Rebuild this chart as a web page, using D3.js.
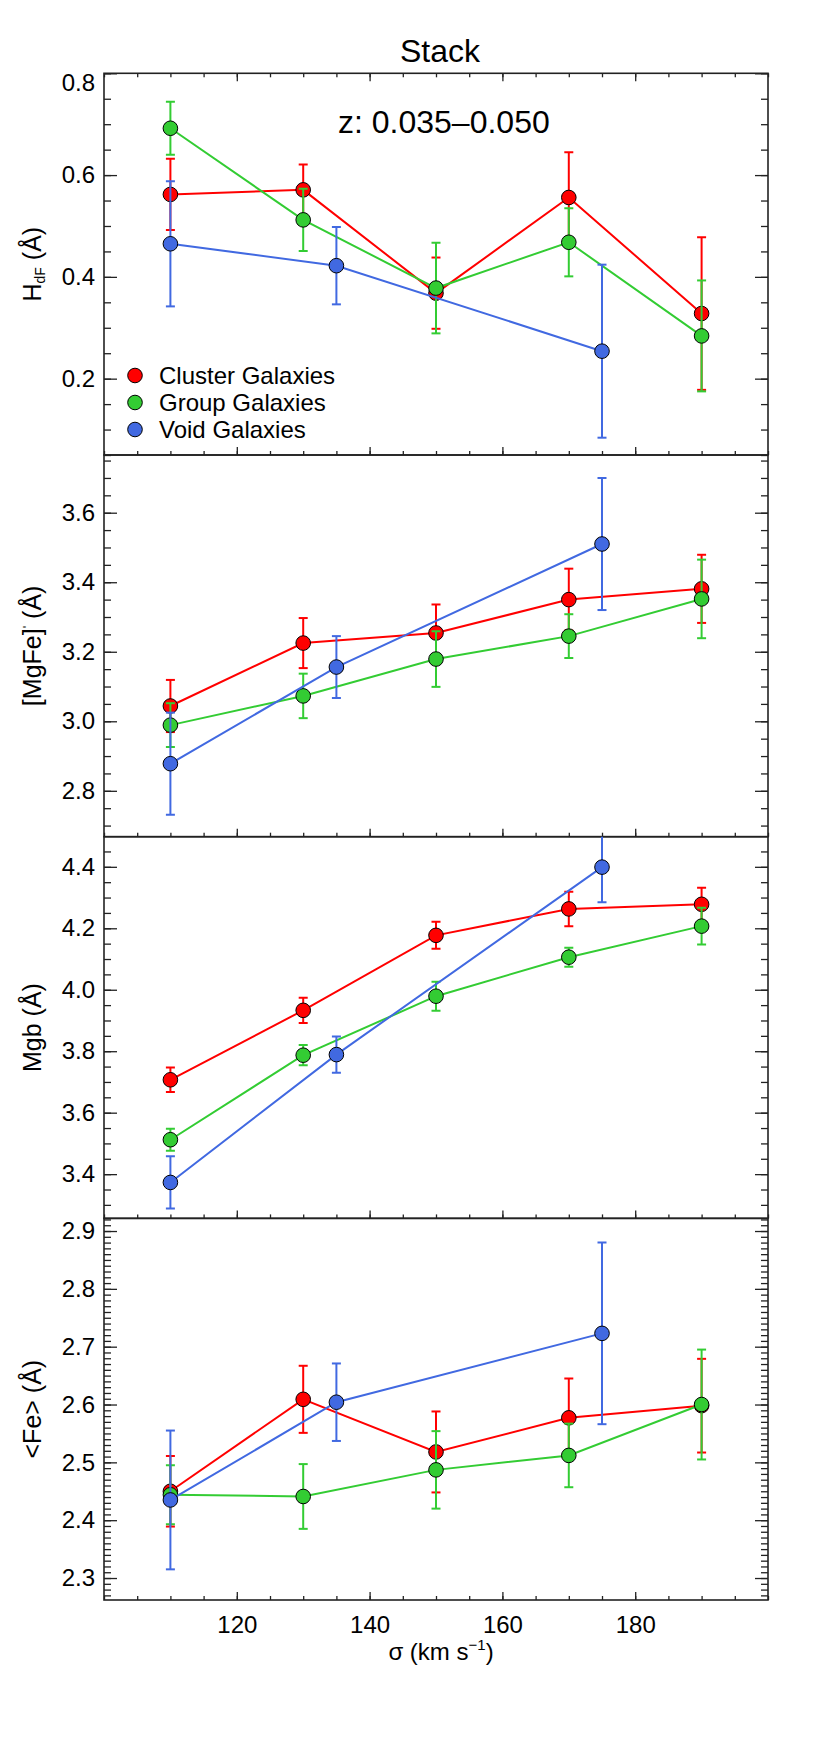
<!DOCTYPE html>
<html>
<head>
<meta charset="utf-8">
<script src="https://cdn.jsdelivr.net/npm/d3@7"></script>
<style>
  body { margin: 0; background: #fff; }
  svg { display: block; font-family: "Liberation Sans", Arial, Helvetica, sans-serif; }
</style>
</head>
<body>
<svg id="chart" width="830" height="1752"></svg>
<script>
// sigma bins (km/s)
const sigmaCluster = [110, 130, 150, 170, 190]
const sigmaGroup = [110, 130, 150, 170, 190]
const sigmaVoid = [110, 135, 175]

// H_dF
const hdfCluster = [0.562, 0.571, 0.368, 0.556, 0.328]
const hdfClusterErr = [0.070, 0.050, 0.070, 0.089, 0.150]
const hdfGroup = [0.692, 0.512, 0.378, 0.468, 0.284]
const hdfGroupErr = [0.052, 0.061, 0.089, 0.067, 0.109]
const hdfVoid = [0.465, 0.422, 0.254]
const hdfVoidErr = [0.123, 0.076, 0.170]

// [MgFe]'
const mgfeCluster = [3.044, 3.225, 3.254, 3.350, 3.381]
const mgfeClusterErr = [0.075, 0.072, 0.082, 0.089, 0.098]
const mgfeGroup = [2.989, 3.073, 3.179, 3.245, 3.352]
const mgfeGroupErr = [0.063, 0.064, 0.080, 0.063, 0.113]
const mgfeVoid = [2.878, 3.156, 3.510]
const mgfeVoidErr = [0.147, 0.089, 0.190]

// Mgb
const mgbCluster = [3.707, 3.933, 4.177, 4.263, 4.278]
const mgbClusterErr = [0.040, 0.041, 0.044, 0.056, 0.054]
const mgbGroup = [3.512, 3.787, 3.979, 4.106, 4.207]
const mgbGroupErr = [0.036, 0.033, 0.047, 0.031, 0.060]
const mgbVoid = [3.373, 3.789, 4.399]
const mgbVoidErr = [0.085, 0.059, 0.114]

// <Fe>
const feCluster = [2.450, 2.609, 2.518, 2.577, 2.598]
const feClusterErr = [0.061, 0.058, 0.070, 0.068, 0.081]
const feGroup = [2.444, 2.441, 2.487, 2.512, 2.600]
const feGroupErr = [0.051, 0.056, 0.067, 0.055, 0.095]
const feVoid = [2.435, 2.604, 2.723]
const feVoidErr = [0.120, 0.067, 0.157]

// axes
const xDomain = [100, 200]
const xTicks = [120, 140, 160, 180]
const hdfDomain = [0.05, 0.8]
const hdfTicks = [0.2, 0.4, 0.6, 0.8]
const mgfeDomain = [2.668, 3.766]
const mgfeTicks = [2.8, 3.0, 3.2, 3.4, 3.6]
const mgbDomain = [3.256, 4.498]
const mgbTicks = [3.4, 3.6, 3.8, 4.0, 4.2, 4.4]
const feDomain = [2.262, 2.922]
const feTicks = [2.3, 2.4, 2.5, 2.6, 2.7, 2.8, 2.9]

const seriesNames = ['Cluster Galaxies', 'Group Galaxies', 'Void Galaxies']
const seriesColors = ['#ff0000', '#33cc33', '#4169e1']

const svg = d3.select('#chart')
const left = 104
const width = 664
const panelH = 381.7
const tops = [73.3, 455, 836.7, 1218.3]

const x = d3.scaleLinear().domain(xDomain).range([0, width])

const panels = [
  { domain: hdfDomain, ticks: hdfTicks, minor: 0.05, fmt: '.1f',
    series: [[sigmaCluster, hdfCluster, hdfClusterErr], [sigmaGroup, hdfGroup, hdfGroupErr], [sigmaVoid, hdfVoid, hdfVoidErr]] },
  { domain: mgfeDomain, ticks: mgfeTicks, minor: 0.05, fmt: '.1f',
    series: [[sigmaCluster, mgfeCluster, mgfeClusterErr], [sigmaGroup, mgfeGroup, mgfeGroupErr], [sigmaVoid, mgfeVoid, mgfeVoidErr]] },
  { domain: mgbDomain, ticks: mgbTicks, minor: 0.05, fmt: '.1f',
    series: [[sigmaCluster, mgbCluster, mgbClusterErr], [sigmaGroup, mgbGroup, mgbGroupErr], [sigmaVoid, mgbVoid, mgbVoidErr]] },
  { domain: feDomain, ticks: feTicks, minor: 0.01, fmt: '.1f',
    series: [[sigmaCluster, feCluster, feClusterErr], [sigmaGroup, feGroup, feGroupErr], [sigmaVoid, feVoid, feVoidErr]] }
]

function minorValues (domain, step) {
  const out = []
  const start = Math.ceil(domain[0] / step - 1e-6)
  const end = Math.floor(domain[1] / step + 1e-6)
  for (let k = start; k <= end; k++) out.push(+(k * step).toFixed(4))
  return out
}

function styleAxis (sel) {
  sel.select('.domain').remove()
  sel.selectAll('.tick line').attr('stroke', '#222').attr('stroke-width', 1.3)
  sel.selectAll('text').attr('font-size', 24).attr('fill', '#000')
    .attr('font-family', '"Liberation Sans", Arial, sans-serif')
}

panels.forEach((p, i) => {
  const g = svg.append('g').attr('transform', `translate(${left},${tops[i]})`)
  const y = d3.scaleLinear().domain(p.domain).range([panelH, 0])

  g.append('clipPath').attr('id', 'clip' + i)
    .append('rect').attr('width', width).attr('height', panelH)

  // y axes (ticks inside)
  g.append('g').call(d3.axisLeft(y).tickValues(minorValues(p.domain, p.minor)).tickSize(-7).tickFormat(''))
    .call(styleAxis)
  const yl = g.append('g').call(d3.axisLeft(y).tickValues(p.ticks).tickSize(-13).tickPadding(9).tickFormat(d3.format(p.fmt)))
    .call(styleAxis)
  yl.selectAll('.tick text').filter(d => y(d) < 9).attr('dy', '0.7em')

  g.append('g').attr('transform', `translate(${width},0)`)
    .call(d3.axisRight(y).tickValues(minorValues(p.domain, p.minor)).tickSize(-7).tickFormat(''))
    .call(styleAxis)
  g.append('g').attr('transform', `translate(${width},0)`)
    .call(d3.axisRight(y).tickValues(p.ticks).tickSize(-13).tickFormat(''))
    .call(styleAxis)

  // x axes
  const xMinor = d3.range(xDomain[0], xDomain[1] + 1, 5)
  g.append('g').attr('transform', `translate(0,${panelH})`)
    .call(d3.axisBottom(x).tickValues(xMinor).tickSize(-4).tickFormat(''))
    .call(styleAxis)
  g.append('g').attr('transform', `translate(0,${panelH})`)
    .call(d3.axisBottom(x).tickValues(xTicks).tickSize(-8).tickPadding(16)
      .tickFormat(i === 3 ? d3.format('d') : ''))
    .call(styleAxis)
  if (i === 0) {
    g.append('g').call(d3.axisTop(x).tickValues(xMinor).tickSize(-4).tickFormat('')).call(styleAxis)
    g.append('g').call(d3.axisTop(x).tickValues(xTicks).tickSize(-8).tickFormat('')).call(styleAxis)
  }

  // frame
  g.append('rect').attr('width', width).attr('height', panelH)
    .attr('fill', 'none').attr('stroke', '#222').attr('stroke-width', 1.6)

  // data
  const data = g.append('g').attr('clip-path', `url(#clip${i})`)
  p.series.forEach(([xs, vals, errs], s) => {
    const color = seriesColors[s]
    const pts = xs.map((xv, k) => ({ x: xv, v: vals[k], e: errs[k] }))
    data.append('path').datum(pts)
      .attr('d', d3.line().x(d => x(d.x)).y(d => y(d.v)))
      .attr('fill', 'none').attr('stroke', color).attr('stroke-width', 2)
    const eb = data.append('g').attr('stroke', color).attr('stroke-width', 2)
    pts.forEach(d => {
      const cx = x(d.x)
      eb.append('line').attr('x1', cx).attr('x2', cx).attr('y1', y(d.v - d.e)).attr('y2', y(d.v + d.e))
      eb.append('line').attr('x1', cx - 4.5).attr('x2', cx + 4.5).attr('y1', y(d.v - d.e)).attr('y2', y(d.v - d.e))
      eb.append('line').attr('x1', cx - 4.5).attr('x2', cx + 4.5).attr('y1', y(d.v + d.e)).attr('y2', y(d.v + d.e))
    })
    data.selectAll(null).data(pts).enter().append('circle')
      .attr('cx', d => x(d.x)).attr('cy', d => y(d.v)).attr('r', 7.3)
      .attr('fill', color).attr('stroke', '#000').attr('stroke-width', 1)
  })
})

// y axis labels
function yLabel (i) {
  const cy = tops[i] + panelH / 2
  return svg.append('text')
    .attr('transform', `translate(41,${cy}) rotate(-90)`)
    .attr('text-anchor', 'middle').attr('font-size', 25)
}
const l0 = yLabel(0)
l0.append('tspan').text('H')
l0.append('tspan').text('dF').attr('font-size', 14).attr('dy', 4)
l0.append('tspan').text(' (Å)').attr('dy', -4)
const l1 = yLabel(1)
l1.append('tspan').text('[MgFe]')
l1.append('tspan').text("'").attr('font-size', 13).attr('dy', -9)
l1.append('tspan').text(' (Å)').attr('dy', 9)
yLabel(2).text('Mgb (Å)')
yLabel(3).text('<Fe> (Å)')

// x label
const xl = svg.append('text').attr('x', 441).attr('y', 1660)
  .attr('text-anchor', 'middle').attr('font-size', 24)
xl.append('tspan').text('σ (km s')
xl.append('tspan').text('−1').attr('font-size', 15).attr('dy', -10)
xl.append('tspan').text(')').attr('dy', 10)

// title and annotation
svg.append('text').attr('x', 440).attr('y', 61.7).attr('text-anchor', 'middle')
  .attr('font-size', 32).text('Stack')
svg.append('text').attr('x', 338).attr('y', 132.7)
  .attr('font-size', 32).text('z: 0.035–0.050')

// legend
const legend = svg.append('g')
seriesNames.forEach((name, s) => {
  const cy = 375.5 + s * 27
  legend.append('circle').attr('cx', 135).attr('cy', cy).attr('r', 7.3)
    .attr('fill', seriesColors[s]).attr('stroke', '#000').attr('stroke-width', 1)
  legend.append('text').attr('x', 159).attr('y', cy + 8.5).attr('font-size', 24).text(name)
})
</script>
</body>
</html>
